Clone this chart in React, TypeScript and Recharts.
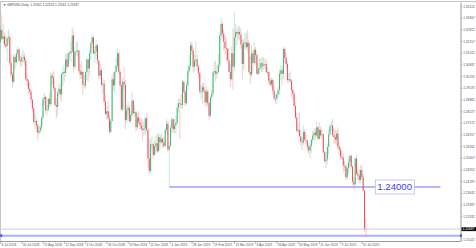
import React from 'react';
import { ComposedChart, Bar, XAxis, YAxis, ReferenceLine, ReferenceDot } from 'recharts';

// GBPUSD daily, 6 Jul 2018 .. 30 Jul 2019 (one row per week)
const OPEN = [
  1.3215,
  1.3280, 1.3230, 1.3245, 1.3200, 1.3190,
  1.3235, 1.3240, 1.3095, 1.3030, 1.2990,
  1.3130, 1.3100, 1.3150, 1.3170, 1.3110,
  1.3105, 1.3125, 1.3130, 1.3110, 1.3005,
  1.2995, 1.2950, 1.2935, 1.2890, 1.2840,
  1.2765, 1.2770, 1.2745, 1.2705, 1.2715,
  1.2735, 1.2790, 1.2895, 1.2905, 1.2830,
  1.2835, 1.2895, 1.2865, 1.3025, 1.3015,
  1.2955, 1.2860, 1.2850, 1.2930, 1.2950,
  1.2920, 1.3035, 1.3045, 1.3040, 1.3115,
  1.3075, 1.3150, 1.3150, 1.3160, 1.3250,
  1.3075, 1.3160, 1.3165, 1.3165, 1.3050,
  1.3030, 1.3045, 1.2975, 1.2970, 1.3045,
  1.3115, 1.3065, 1.3150, 1.3205, 1.3240,
  1.3150, 1.3160, 1.3195, 1.3110, 1.3025,
  1.3055, 1.2975, 1.2980, 1.2880, 1.2810,
  1.2825, 1.2785, 1.2710, 1.2770, 1.3005,
  1.2970, 1.3045, 1.3080, 1.3150, 1.3045,
  1.2970, 1.2835, 1.2990, 1.2975, 1.2775,
  1.2830, 1.2845, 1.2770, 1.2805, 1.2885,
  1.2815, 1.2820, 1.2735, 1.2790, 1.2765,
  1.2745, 1.2725, 1.2720, 1.2730, 1.2785,
  1.2720, 1.2560, 1.2490, 1.2640, 1.2640,
  1.2580, 1.2630, 1.2645, 1.2600, 1.2680,
  1.2650, 1.2670, 1.2650, 1.2630, 1.2720,
  1.2755, 1.2610, 1.2630,
  1.2730, 1.2780, 1.2725, 1.2745, 1.2760,
  1.2845, 1.2870, 1.2865, 1.2860, 1.2990,
  1.2935, 1.2870, 1.2970, 1.3050, 1.3080,
  1.3195, 1.3165, 1.3075, 1.3110, 1.3115,
  1.3075, 1.3040, 1.2935, 1.2935, 1.2960,
  1.2940, 1.2875, 1.2935, 1.2870, 1.2800,
  1.2905, 1.2925, 1.3045, 1.3050, 1.3035,
  1.3045, 1.3085, 1.3250, 1.3315, 1.3260,
  1.3215, 1.3180, 1.3175, 1.3110, 1.3045,
  1.3005, 1.3150, 1.3075, 1.3240, 1.3270,
  1.3260, 1.3270, 1.3255, 1.3200, 1.3090,
  1.3210, 1.3210, 1.3185, 1.3210, 1.3045,
  1.3030, 1.3150, 1.3095, 1.3170, 1.3140,
  1.3035, 1.3065, 1.3065, 1.3095, 1.3080,
  1.3085, 1.3090, 1.3045, 1.3045, 1.2995,
  1.2975, 1.3000, 1.2940, 1.2895, 1.2895,
  1.2920, 1.2945, 1.3035, 1.3055, 1.3035,
  1.3175, 1.3125, 1.3090, 1.3000, 1.3005,
  1.2995, 1.2945, 1.2925, 1.2855, 1.2790,
  1.2715, 1.2720, 1.2685, 1.2655, 1.2650,
  1.2710, 1.2665, 1.2660, 1.2625, 1.2605,
  1.2630, 1.2665, 1.2690, 1.2705, 1.2690,
  1.2735, 1.2670, 1.2720, 1.2690, 1.2695,
  1.2595, 1.2545, 1.2555, 1.2625, 1.2695,
  1.2740, 1.2745, 1.2690, 1.2680, 1.2665,
  1.2700, 1.2625, 1.2610, 1.2570, 1.2565,
  1.2520, 1.2515, 1.2455, 1.2505, 1.2540,
  1.2575, 1.2515, 1.2430, 1.2415, 1.2560,
  1.2475, 1.2465, 1.2440, 1.2495, 1.2455,
  1.2380, 1.21651,
];

const HIGH = [
  1.3300,
  1.3363, 1.3315, 1.3265, 1.3250, 1.3245,
  1.3285, 1.3260, 1.3145, 1.3045, 1.3150,
  1.3140, 1.3175, 1.3190, 1.3180, 1.3135,
  1.3145, 1.3170, 1.3150, 1.3125, 1.3040,
  1.3005, 1.2985, 1.2945, 1.2895, 1.2850,
  1.2815, 1.2790, 1.2755, 1.2750, 1.2750,
  1.2800, 1.2905, 1.2930, 1.2915, 1.2860,
  1.2900, 1.2930, 1.3045, 1.3040, 1.3050,
  1.2960, 1.2900, 1.2940, 1.2975, 1.2985,
  1.3040, 1.3085, 1.3065, 1.3145, 1.3150,
  1.3160, 1.3165, 1.3215, 1.3298, 1.3280,
  1.3160, 1.3215, 1.3215, 1.3170, 1.3090,
  1.3105, 1.3055, 1.3025, 1.3050, 1.3130,
  1.3120, 1.3165, 1.3215, 1.3257, 1.3245,
  1.3190, 1.3225, 1.3200, 1.3115, 1.3095,
  1.3070, 1.3010, 1.3000, 1.2915, 1.2855,
  1.2880, 1.2805, 1.2780, 1.3030, 1.3045,
  1.3050, 1.3125, 1.3175, 1.3160, 1.3060,
  1.2980, 1.3010, 1.3075, 1.3000, 1.2860,
  1.2880, 1.2860, 1.2830, 1.2930, 1.2890,
  1.2860, 1.2830, 1.2815, 1.2825, 1.2790,
  1.2785, 1.2780, 1.2765, 1.2795, 1.2810,
  1.2730, 1.2670, 1.2670, 1.2685, 1.2645,
  1.2660, 1.2690, 1.2705, 1.2700, 1.2695,
  1.2700, 1.2680, 1.2680, 1.2730, 1.2780,
  1.2770, 1.2650, 1.2745,
  1.2790, 1.2790, 1.2780, 1.2800, 1.2865,
  1.2895, 1.2895, 1.2920, 1.3000, 1.3000,
  1.2945, 1.2990, 1.3075, 1.3140, 1.3215,
  1.3215, 1.3180, 1.3145, 1.3217, 1.3140,
  1.3085, 1.3045, 1.2970, 1.2985, 1.2985,
  1.2945, 1.2965, 1.2950, 1.2875, 1.2915,
  1.2945, 1.3060, 1.3110, 1.3105, 1.3085,
  1.3145, 1.3265, 1.3350, 1.3325, 1.3285,
  1.3250, 1.3240, 1.3180, 1.3180, 1.3090,
  1.3190, 1.3290, 1.3381, 1.3315, 1.3290,
  1.3305, 1.3300, 1.3290, 1.3225, 1.3230,
  1.3265, 1.3265, 1.3280, 1.3225, 1.3135,
  1.3195, 1.3165, 1.3210, 1.3185, 1.3150,
  1.3095, 1.3120, 1.3125, 1.3125, 1.3130,
  1.3120, 1.3115, 1.3070, 1.3050, 1.3010,
  1.3015, 1.3010, 1.2965, 1.2920, 1.2935,
  1.2960, 1.3060, 1.3085, 1.3075, 1.3176,
  1.3185, 1.3150, 1.3105, 1.3040, 1.3050,
  1.3005, 1.2960, 1.2935, 1.2875, 1.2815,
  1.2760, 1.2810, 1.2715, 1.2675, 1.2745,
  1.2725, 1.2695, 1.2665, 1.2645, 1.2645,
  1.2670, 1.2715, 1.2730, 1.2730, 1.2765,
  1.2740, 1.2765, 1.2740, 1.2725, 1.2700,
  1.2605, 1.2595, 1.2640, 1.2725, 1.2755,
  1.2770, 1.2784, 1.2730, 1.2720, 1.2720,
  1.2735, 1.2650, 1.2625, 1.2600, 1.2585,
  1.2545, 1.2520, 1.2530, 1.2560, 1.2580,
  1.2580, 1.2520, 1.2455, 1.2565, 1.2580,
  1.2495, 1.2500, 1.2520, 1.2525, 1.2470,
  1.2385, 1.22252,
];

const LOW = [
  1.3210,
  1.3225, 1.3205, 1.3185, 1.3175, 1.3105,
  1.3205, 1.3075, 1.3010, 1.2957, 1.2980,
  1.3060, 1.3085, 1.3130, 1.3100, 1.3075,
  1.3075, 1.3095, 1.3085, 1.2995, 1.2965,
  1.2920, 1.2920, 1.2870, 1.2820, 1.2755,
  1.2725, 1.2710, 1.2662, 1.2690, 1.2700,
  1.2720, 1.2780, 1.2860, 1.2815, 1.2800,
  1.2825, 1.2850, 1.2855, 1.2975, 1.2940,
  1.2855, 1.2785, 1.2800, 1.2915, 1.2890,
  1.2875, 1.2970, 1.2990, 1.3015, 1.3060,
  1.3070, 1.3110, 1.3100, 1.3150, 1.3040,
  1.3060, 1.3135, 1.3130, 1.3040, 1.3005,
  1.3005, 1.2920, 1.2955, 1.2950, 1.3000,
  1.2990, 1.3025, 1.3110, 1.3180, 1.3140,
  1.3100, 1.3120, 1.3090, 1.3005, 1.3010,
  1.2960, 1.2925, 1.2860, 1.2800, 1.2775,
  1.2780, 1.2696, 1.2700, 1.2765, 1.2940,
  1.2925, 1.3040, 1.3060, 1.3030, 1.2960,
  1.2825, 1.2825, 1.2950, 1.2725, 1.2755,
  1.2800, 1.2760, 1.2755, 1.2790, 1.2805,
  1.2795, 1.2710, 1.2720, 1.2755, 1.2725,
  1.2715, 1.2660, 1.2690, 1.2690, 1.2710,
  1.2505, 1.2477, 1.2475, 1.2610, 1.2560,
  1.2575, 1.2600, 1.2590, 1.2600, 1.2610,
  1.2640, 1.2620, 1.2620, 1.2625, 1.2700,
  1.2600, 1.2400, 1.2625,
  1.2700, 1.2705, 1.2700, 1.2700, 1.2750,
  1.2815, 1.2670, 1.2840, 1.2840, 1.2925,
  1.2855, 1.2860, 1.2945, 1.3030, 1.3060,
  1.3140, 1.3045, 1.3050, 1.3080, 1.3055,
  1.3010, 1.2920, 1.2895, 1.2865, 1.2925,
  1.2850, 1.2855, 1.2845, 1.2773, 1.2790,
  1.2885, 1.2905, 1.3020, 1.2990, 1.3010,
  1.3040, 1.3070, 1.3220, 1.3235, 1.3165,
  1.3140, 1.3105, 1.3110, 1.3045, 1.2960,
  1.2995, 1.2945, 1.3050, 1.3165, 1.3195,
  1.3230, 1.3220, 1.3175, 1.3005, 1.3060,
  1.3180, 1.3170, 1.3155, 1.3040, 1.2977,
  1.3015, 1.3040, 1.3095, 1.3085, 1.3030,
  1.3025, 1.3035, 1.3045, 1.3045, 1.3060,
  1.3065, 1.3035, 1.3020, 1.2975, 1.2965,
  1.2960, 1.2920, 1.2880, 1.2866, 1.2865,
  1.2905, 1.2920, 1.3000, 1.2975, 1.3005,
  1.3095, 1.3065, 1.2985, 1.2985, 1.2985,
  1.2905, 1.2890, 1.2850, 1.2780, 1.2705,
  1.2705, 1.2685, 1.2635, 1.2605, 1.2635,
  1.2660, 1.2640, 1.2600, 1.2585, 1.2560,
  1.2590, 1.2645, 1.2655, 1.2665, 1.2680,
  1.2660, 1.2665, 1.2680, 1.2665, 1.2590,
  1.2535, 1.2506, 1.2530, 1.2580, 1.2690,
  1.2715, 1.2680, 1.2645, 1.2640, 1.2635,
  1.2610, 1.2580, 1.2555, 1.2555, 1.2480,
  1.2490, 1.2440, 1.2440, 1.2475, 1.2510,
  1.2505, 1.2410, 1.2382, 1.2405, 1.2470,
  1.2440, 1.2420, 1.2420, 1.2440, 1.2375,
  1.2150, 1.21161,
];

const CLOSE = [
  1.3280,
  1.3230, 1.3245, 1.3200, 1.3190, 1.3235,
  1.3240, 1.3095, 1.3030, 1.2990, 1.3130,
  1.3100, 1.3150, 1.3170, 1.3110, 1.3105,
  1.3125, 1.3130, 1.3110, 1.3005, 1.2995,
  1.2950, 1.2935, 1.2890, 1.2840, 1.2765,
  1.2770, 1.2745, 1.2705, 1.2715, 1.2735,
  1.2790, 1.2895, 1.2905, 1.2830, 1.2835,
  1.2895, 1.2865, 1.3025, 1.3015, 1.2955,
  1.2860, 1.2850, 1.2930, 1.2950, 1.2920,
  1.3035, 1.3045, 1.3040, 1.3115, 1.3075,
  1.3150, 1.3150, 1.3160, 1.3250, 1.3075,
  1.3160, 1.3165, 1.3165, 1.3050, 1.3030,
  1.3045, 1.2975, 1.2970, 1.3045, 1.3115,
  1.3065, 1.3150, 1.3205, 1.3240, 1.3150,
  1.3160, 1.3195, 1.3110, 1.3025, 1.3055,
  1.2975, 1.2980, 1.2880, 1.2810, 1.2825,
  1.2785, 1.2710, 1.2770, 1.3005, 1.2970,
  1.3045, 1.3080, 1.3150, 1.3045, 1.2970,
  1.2835, 1.2990, 1.2975, 1.2775, 1.2830,
  1.2845, 1.2770, 1.2805, 1.2885, 1.2815,
  1.2820, 1.2735, 1.2790, 1.2765, 1.2745,
  1.2725, 1.2720, 1.2730, 1.2785, 1.2720,
  1.2560, 1.2490, 1.2640, 1.2640, 1.2580,
  1.2630, 1.2645, 1.2600, 1.2680, 1.2650,
  1.2670, 1.2650, 1.2630, 1.2720, 1.2755,
  1.2610, 1.2630, 1.2730,
  1.2780, 1.2725, 1.2745, 1.2760, 1.2845,
  1.2870, 1.2865, 1.2860, 1.2990, 1.2935,
  1.2870, 1.2970, 1.3050, 1.3080, 1.3195,
  1.3165, 1.3075, 1.3110, 1.3115, 1.3075,
  1.3040, 1.2935, 1.2935, 1.2960, 1.2940,
  1.2875, 1.2935, 1.2870, 1.2800, 1.2905,
  1.2925, 1.3045, 1.3050, 1.3035, 1.3045,
  1.3085, 1.3250, 1.3315, 1.3260, 1.3215,
  1.3180, 1.3175, 1.3110, 1.3045, 1.3005,
  1.3150, 1.3075, 1.3240, 1.3270, 1.3260,
  1.3270, 1.3255, 1.3200, 1.3090, 1.3210,
  1.3210, 1.3185, 1.3210, 1.3045, 1.3030,
  1.3150, 1.3095, 1.3170, 1.3140, 1.3035,
  1.3065, 1.3065, 1.3095, 1.3080, 1.3085,
  1.3090, 1.3045, 1.3045, 1.2995, 1.2975,
  1.3000, 1.2940, 1.2895, 1.2895, 1.2920,
  1.2945, 1.3035, 1.3055, 1.3035, 1.3175,
  1.3125, 1.3090, 1.3000, 1.3005, 1.2995,
  1.2945, 1.2925, 1.2855, 1.2790, 1.2715,
  1.2720, 1.2685, 1.2655, 1.2650, 1.2710,
  1.2665, 1.2660, 1.2625, 1.2605, 1.2630,
  1.2665, 1.2690, 1.2705, 1.2690, 1.2735,
  1.2670, 1.2720, 1.2690, 1.2695, 1.2595,
  1.2545, 1.2555, 1.2625, 1.2695, 1.2740,
  1.2745, 1.2690, 1.2680, 1.2665, 1.2700,
  1.2625, 1.2610, 1.2570, 1.2565, 1.2520,
  1.2515, 1.2455, 1.2505, 1.2540, 1.2575,
  1.2515, 1.2430, 1.2415, 1.2560, 1.2475,
  1.2465, 1.2440, 1.2495, 1.2455, 1.2380,
  1.21651, 1.21637,
];

// date ticks every 16 bars
const X_TICKS = [0, 16, 32, 48, 64, 80, 96, 112, 128, 144, 160, 176, 192, 208, 224, 240, 256, 272];
const X_TICK_LABELS = [
  '6 Jul 2018', '30 Jul 2018', '21 Aug 2018', '12 Sep 2018', '4 Oct 2018', '26 Oct 2018',
  '19 Nov 2018', '11 Dec 2018', '4 Jan 2019', '28 Jan 2019', '19 Feb 2019', '13 Mar 2019',
  '4 Apr 2019', '26 Apr 2019', '20 May 2019', '11 Jun 2019', '3 Jul 2019', '25 Jul 2019',
];

const Y_TICKS = [
  1.34122, 1.33467, 1.32812, 1.32157, 1.31502, 1.30847, 1.30192, 1.29537, 1.28882, 1.28227,
  1.27572, 1.26917, 1.26262, 1.25607, 1.24952, 1.24297, 1.23642, 1.22987, 1.22332, 1.21022,
];

const LEVEL = 1.24;
const LEVEL_FROM = 127;
const LEVEL_TO = 331;
const LOW_LINE = 1.2127;
const BID = 1.21637;
const SLOTS = 347; // bars + empty chart shift on the right

const BULL = '#3cb878';
const BEAR = '#e8505b';
const FONT = '"Liberation Sans", Arial, sans-serif';

const data = Array.from({ length: SLOTS }, (_, i) =>
  i < CLOSE.length
    ? { i, open: OPEN[i], high: HIGH[i], low: LOW[i], close: CLOSE[i] }
    : { i }
);

const Candle = (props: any) => {
  const { x, y, width, height, payload } = props;
  if (payload == null || payload.high == null) return null;
  const { open, high, low, close } = payload;
  const top = Math.min(y, y + height);
  const h = Math.abs(height);
  const k = h / (high - low);
  const cx = x + width / 2;
  const bodyTop = top + (high - Math.max(open, close)) * k;
  const bodyH = Math.max(Math.abs(open - close) * k, 0.7);
  const color = close >= open ? BULL : BEAR;
  return (
    <g>
      <line x1={cx} x2={cx} y1={top} y2={top + h} stroke={color} strokeOpacity={0.3} strokeWidth={1} />
      <rect x={cx - 0.5} y={bodyTop} width={1} height={bodyH} fill={color} />
    </g>
  );
};

const DateTick = (props: any) => {
  const { x, y, payload } = props;
  const idx = X_TICKS.indexOf(payload.value);
  if (idx < 0) return null;
  return (
    <g>
      <line x1={x} x2={x} y1={y} y2={y + 2.5} stroke="#888" strokeWidth={0.6} />
      <text x={x + 0.8} y={y + 4.6} fontSize={3.2} fill="#555" fontFamily={FONT}>
        {X_TICK_LABELS[idx]}
      </text>
    </g>
  );
};

const PriceTick = (props: any) => {
  const { x, y, payload } = props;
  return (
    <g>
      <line x1={x} x2={x + 1.5} y1={y} y2={y} stroke="#888" strokeWidth={0.6} />
      <text x={x + 2.2} y={y + 1.1} fontSize={3.2} fill="#555" fontFamily={FONT}>
        {payload.value.toFixed(5)}
      </text>
    </g>
  );
};

const LevelLabel = (props: any) => {
  const { cx, cy } = props;
  return (
    <g>
      <rect x={cx} y={cy - 7} width={39} height={14} fill="#fff" stroke="#b8b8f2" strokeWidth={0.8} />
      <text x={cx + 2} y={cy + 3.5} fontSize={9.6} fill="#3c3cf5" fontFamily={FONT}>
        {LEVEL.toFixed(5)}
      </text>
    </g>
  );
};

const BidBox = (props: any) => {
  const { cx, cy } = props;
  return (
    <g>
      <rect x={cx + 1.2} y={cy - 2} width={15} height={4} fill="#111" />
      <text x={cx + 2.2} y={cy + 1.1} fontSize={3.2} fill="#fff" fontFamily={FONT}>
        {BID.toFixed(5)}
      </text>
    </g>
  );
};

const Handle = (props: any) => {
  const { cx, cy } = props;
  return <rect x={cx - 0.4} y={cy - 1.4} width={2} height={2.8} fill="#4a55f0" />;
};

export default function App() {
  return (
    <div style={{ position: 'absolute', left: 0, top: 0, width: 476, height: 248, background: '#fff', overflow: 'hidden' }}>
      <div style={{ position: 'absolute', left: 0, top: 1, width: 476, height: 1, background: '#c4c4c4' }} />
      <div style={{ position: 'absolute', left: 0, top: 1, width: 1, height: 241, background: '#c4c4c4' }} />
      <div
        style={{
          position: 'absolute', left: 3, top: 3.6, fontSize: 3.2, lineHeight: '3.4px',
          fontFamily: FONT, color: '#444', whiteSpace: 'pre', zIndex: 2,
        }}
      >
        {'▼ GBPUSD,Daily  1.21651 1.22252 1.21161 1.21637'}
      </div>
      <ComposedChart
        width={476}
        height={248}
        data={data}
        margin={{ top: 3, right: 0, bottom: 0, left: 0 }}
        style={{ position: 'absolute', left: 0, top: 0 }}
      >
        <XAxis
          dataKey="i"
          type="category"
          height={6.5}
          ticks={X_TICKS}
          interval={0}
          tickLine={false}
          tickSize={0}
          tickMargin={0}
          stroke="#9a9a9a"
          tick={<DateTick />}
        />
        <YAxis
          orientation="right"
          type="number"
          width={15}
          domain={[1.209425, 1.343224]}
          allowDataOverflow
          ticks={Y_TICKS}
          interval={0}
          tickLine={false}
          tickSize={0}
          tickMargin={0}
          stroke="#9a9a9a"
          tick={<PriceTick />}
        />
        <ReferenceLine y={BID} stroke="#cfcfcf" strokeWidth={1} />
        <ReferenceLine y={LOW_LINE} stroke="#aab0fb" strokeWidth={2} />
        <ReferenceLine
          segment={[{ x: LEVEL_FROM, y: LEVEL }, { x: LEVEL_TO, y: LEVEL }]}
          stroke="#6f6ff5"
          strokeWidth={1}
        />
        <Bar
          dataKey={(d: any) => (d.high == null ? null : [d.low, d.high])}
          barSize={1}
          shape={<Candle />}
          isAnimationActive={false}
        />
        <ReferenceDot x={282} y={LEVEL} r={1} shape={<LevelLabel />} />
        <ReferenceDot x={0} y={LOW_LINE} r={1} shape={<Handle />} />
        <ReferenceDot x={SLOTS - 1} y={LOW_LINE} r={1} shape={<Handle />} />
        <ReferenceDot x={SLOTS - 1} y={BID} r={1} shape={<BidBox />} />
      </ComposedChart>
    </div>
  );
}
